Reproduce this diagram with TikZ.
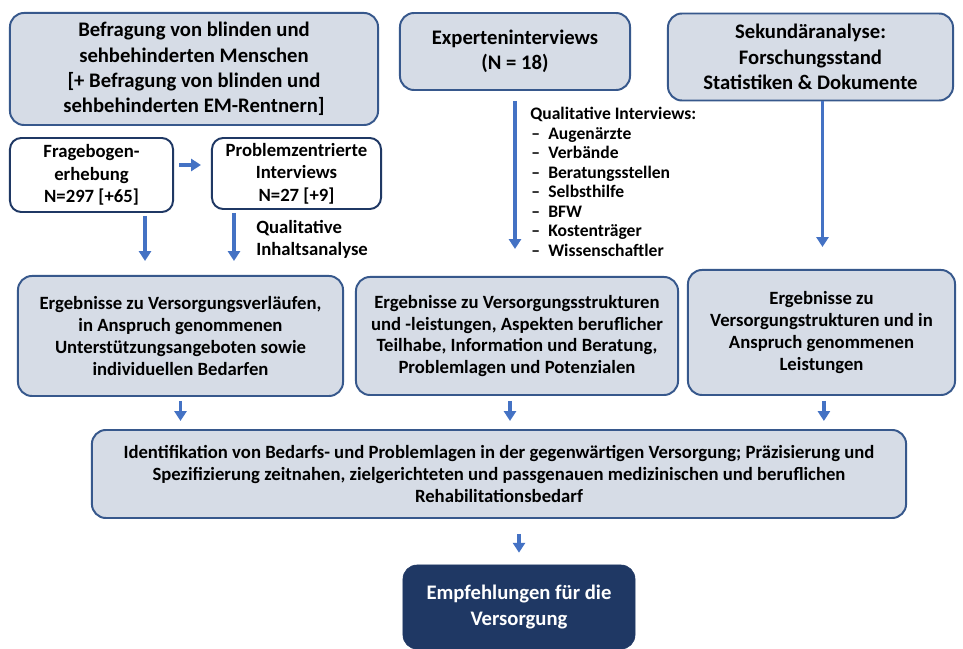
\documentclass[tikz,border=0pt]{standalone}
\usepackage{fontspec}
\setmainfont{Carlito}
\usetikzlibrary{arrows.meta,calc,positioning}

\definecolor{boxfill}{RGB}{214,220,230}
\definecolor{boxline}{RGB}{55,88,140}
\definecolor{frameline}{RGB}{31,56,100}
\definecolor{arrowblue}{RGB}{68,114,196}
\definecolor{navy}{RGB}{31,56,100}

\begin{document}
\begin{tikzpicture}[x=0.025cm,y=-0.025cm,>={Triangle[width=8.5pt,length=7pt]},
  greybox/.style={draw=boxline,line width=1.4pt,fill=boxfill,rounded corners=10pt,
    align=center,inner sep=0pt,font=\bfseries\fontsize{14.7}{18}\selectfont},
  smallbox/.style={greybox,font=\bfseries\fontsize{13.3}{15.6}\selectfont},
  whitebox/.style={draw=frameline,line width=1.4pt,fill=white,rounded corners=8pt,
    align=center,inner sep=0pt,font=\bfseries\fontsize{13.3}{16}\selectfont},
  navybox/.style={draw=navy,fill=navy,text=white,rounded corners=10pt,
    align=center,inner sep=0pt,font=\bfseries\fontsize{14.7}{17.8}\selectfont},
  arr/.style={->,draw=arrowblue,line width=2.6pt},
  note/.style={align=left,inner sep=0pt,font=\bfseries\fontsize{13.3}{15.6}\selectfont},
  listtext/.style={inner sep=0pt,anchor=base west,font=\bfseries\fontsize{12.5}{14}\selectfont}]
  \useasboundingbox[fill=white] (0,0) rectangle (963,649);

  % top row
  \node[greybox,minimum width=9.2cm,minimum height=2.8cm] (befr) at (194,69)
    {Befragung von blinden und\\sehbehinderten Menschen\\{[}+ Befragung von blinden und\\sehbehinderten EM-Rentnern]};
  \node[greybox,minimum width=5.75cm,minimum height=1.925cm] (expi) at (515,51.5)
    {Experteninterviews\\(N = 18)};
  \node[greybox,minimum width=7.125cm,minimum height=2.175cm] (seka) at (810.5,57)
    {Sekundäranalyse:\\Forschungsstand\\Statistiken \& Dokumente};

  \node[whitebox,minimum width=4.075cm,minimum height=1.85cm] (frag) at (91.5,175)
    {Fragebogen-\\erhebung\\N=297 [+65]};
  \node[whitebox,minimum width=4.225cm,minimum height=1.775cm] (prob) at (296.5,173.5)
    {Problemzentrierte\\Interviews\\N=27 [+9]};
  \node[note,anchor=west] (qia) at (256,239) {Qualitative\\Inhaltsanalyse};

  % expert list
  \node[listtext] (qiv) at (530,120) {Qualitative Interviews:};
  \foreach \t [count=\i] in {Augenärzte,Verbände,Beratungsstellen,Selbsthilfe,BFW,Kostenträger,Wissenschaftler}{
    \node[listtext] (dash\i) at (531,120+19.5*\i) {--};
    \node[listtext] (item\i) at (548,120+19.5*\i) {\t};
  }

  % results
  \node[smallbox,minimum width=8.125cm,minimum height=3cm] (ergl) at (180.5,336)
    {Ergebnisse zu Versorgungsverläufen,\\in Anspruch genommenen\\Unterstützungsangeboten sowie\\individuellen Bedarfen};
  \node[smallbox,minimum width=8.05cm,minimum height=2.95cm] (ergm) at (517,336)
    {Ergebnisse zu Versorgungsstrukturen\\und -leistungen, Aspekten beruflicher\\Teilhabe, Information und Beratung,\\Problemlagen und Potenzialen};
  \node[smallbox,minimum width=6.675cm,minimum height=3.125cm] (ergr) at (821.5,332.5)
    {Ergebnisse zu\\Versorgungstrukturen und in\\Anspruch genommenen\\Leistungen};

  \node[smallbox,minimum width=20.35cm,minimum height=2.2cm] (iden) at (499,474)
    {Identifikation von Bedarfs- und Problemlagen in der gegenwärtigen Versorgung; Präzisierung und\\Spezifizierung zeitnahen, zielgerichteten und passgenauen medizinischen und beruflichen\\Rehabilitationsbedarf};
  \node[navybox,minimum width=5.8cm,minimum height=2.1cm] (empf) at (519,607)
    {Empfehlungen für die\\Versorgung};

  % arrows
  \draw[arr,shorten <=0.125cm,shorten >=0.25cm] ([yshift=0.25cm]frag.east) -- ([yshift=0.25cm]frag.east -| prob.west);
  \draw[arr,shorten <=0.075cm,shorten >=0.35cm] ([xshift=1.3375cm]frag.south) -- ([xshift=1.3375cm]frag.south |- ergl.north);
  \draw[arr,shorten <=0.075cm,shorten >=0.35cm] ([xshift=-1.5625cm]prob.south) -- ([xshift=-1.5625cm]prob.south |- ergl.north);
  \draw[arr,shorten <=0.25cm,shorten >=0.675cm] (expi.south) -- (expi.south |- ergm.north);
  \draw[arr,shorten >=0.55cm] ([xshift=0.3cm]seka.south) -- ([xshift=0.3cm]seka.south |- ergr.north);
  \draw[arr,shorten <=0.1cm,shorten >=0.2cm] (ergl.south) -- (ergl.south |- iden.north);
  \draw[arr,shorten <=0.125cm,shorten >=0.2cm] ([xshift=-0.175cm]ergm.south) -- ([xshift=-0.175cm]ergm.south |- iden.north);
  \draw[arr,shorten <=0.125cm,shorten >=0.2cm] ([xshift=0.06cm]ergr.south) -- ([xshift=0.06cm]ergr.south |- iden.north);
  \draw[arr,shorten <=0.375cm,shorten >=0.3cm] (iden.south -| empf.north) -- (empf.north);
\end{tikzpicture}
\end{document}
